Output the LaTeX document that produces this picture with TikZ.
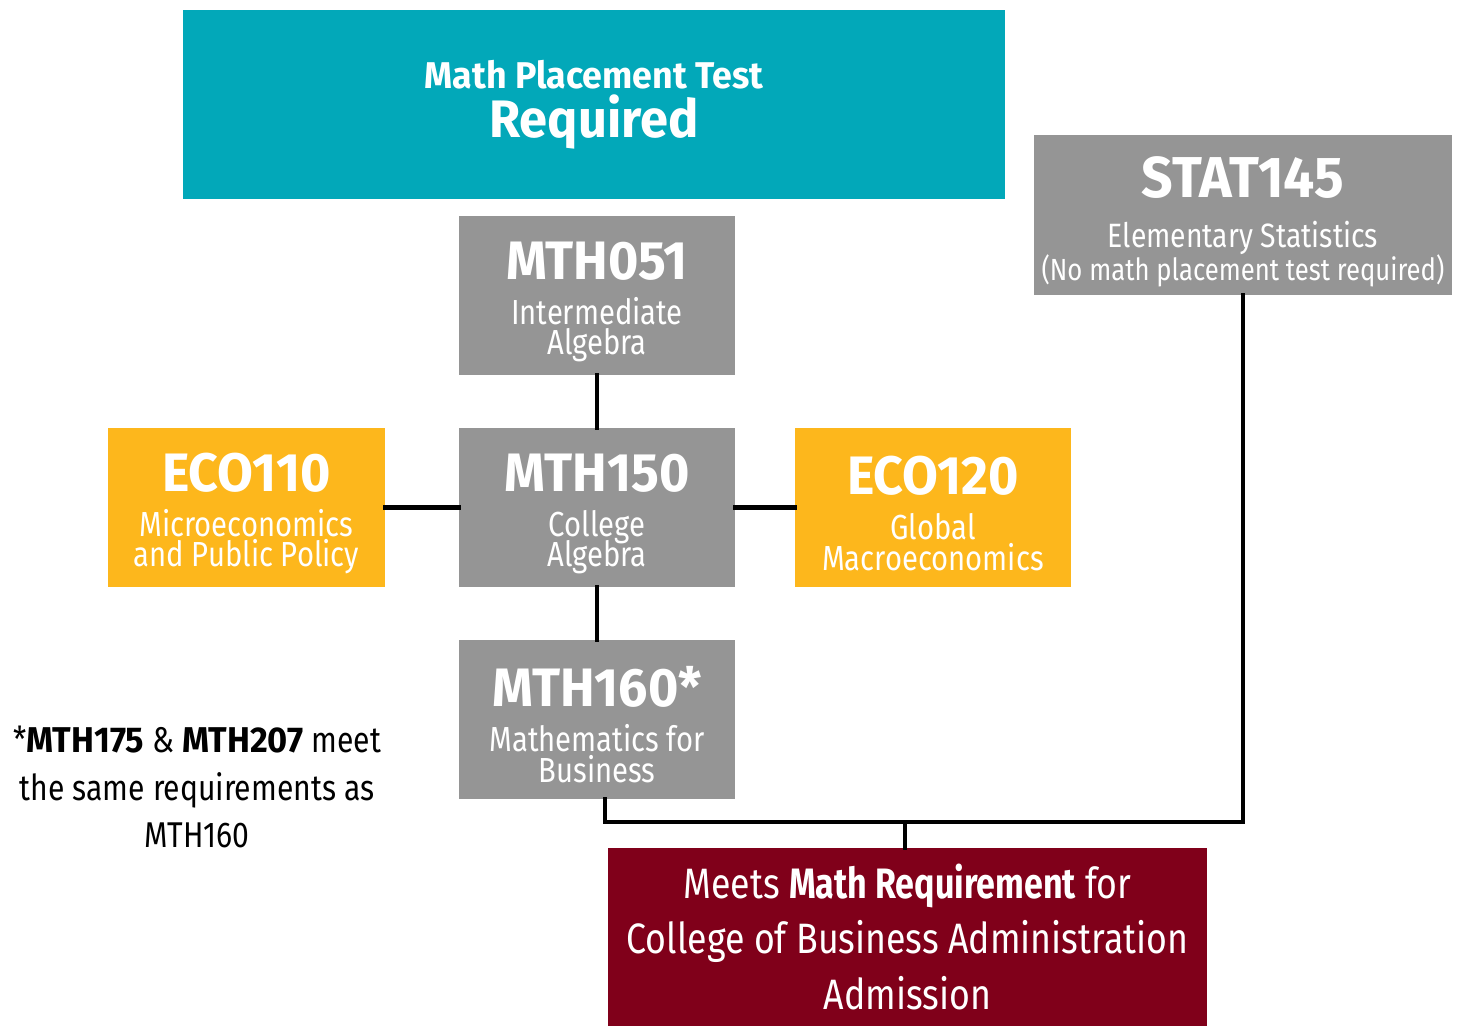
\documentclass[tikz,border=0pt]{standalone}
\usepackage{fontspec}
\setmainfont{Fira Sans}[FakeStretch=0.84, BoldFeatures={FakeStretch=0.96}]
\newfontfamily\narrowfont{Fira Sans}[FakeStretch=0.80]
\usetikzlibrary{calc}

\definecolor{placeteal}{RGB}{2,168,185}
\definecolor{coursegrey}{RGB}{149,149,149}
\definecolor{ecoyellow}{RGB}{253,183,28}
\definecolor{admitred}{RGB}{128,0,26}

\newcommand{\tightlines}{\lineskiplimit -10pt\relax}
\newcommand{\coursecode}[1]{{\fontsize{15.4}{16}\selectfont\bfseries\rule{0pt}{14.4pt}#1}}

\tikzset{
  box/.style={rectangle, inner sep=0pt, align=center, text=white,
    minimum width=2.76cm, minimum height=1.59cm,
    font=\fontsize{9.9}{8.6}\selectfont\tightlines},
  greybox/.style={box, fill=coursegrey},
  ecobox/.style={box, fill=ecoyellow},
  link/.style={line width=1.3pt, line cap=rect}
}

\begin{document}
\begin{tikzpicture}
  \useasboundingbox (0,0) rectangle (14.6,-10.26);

  % placement test banner
  \node[rectangle, fill=placeteal, text=white, align=center, minimum width=8.22cm, minimum height=1.89cm,
    font=\fontsize{10.6}{15}\selectfont\bfseries] (test) at (5.94,-1.045)
    {Math Placement Test\\[-1pt]{\fontsize{15}{15}\selectfont Required}};

  % courses
  \node[greybox] (m051) at (5.97,-2.955) {\coursecode{MTH051}\\[4.2pt]Intermediate\\Algebra};
  \node[greybox] (m150) at (5.97,-5.075) {\coursecode{MTH150}\\[4.2pt]College\\Algebra};
  \node[greybox] (m160) at (5.97,-7.195) {\coursecode{MTH160*}\\[4.2pt]Mathematics for\\Business};
  \node[ecobox, minimum width=2.77cm] (e110) at (2.465,-5.075) {\coursecode{ECO110}\\[4.2pt]Microeconomics\\and Public Policy};
  \node[ecobox] (e120) at (9.33,-5.075) {\coursecode{ECO120}\\[4.2pt]Global\\Macroeconomics};
  \node[greybox, minimum width=4.18cm, minimum height=1.60cm, font=\fontsize{8.7}{9.4}\selectfont\tightlines] (s145) at (12.43,-2.15)
    {{\fontsize{16.4}{17}\selectfont\bfseries\rule{0pt}{15.5pt}STAT145}\\[4.8pt]{\fontsize{9.6}{9.4}\selectfont Elementary Statistics}\\(No math placement test required)};

  % requirement met
  \node[rectangle, fill=admitred, text=white, align=center, minimum width=5.99cm, minimum height=1.78cm,
    font=\fontsize{12.1}{15.9}\selectfont] (cba) at (9.075,-9.37)
    {Meets {\narrowfont\bfseries Math Requirement} for\\College of Business Administration\\Admission};

  % footnote
  \node[align=center, font=\fontsize{10.2}{13.4}\selectfont] (note) at (1.97,-7.87)
    {*\textbf{MTH175} \& \textbf{MTH207} meet\\the same requirements as\\MTH160};

  % connectors
  \coordinate (jn) at (9.05,-8.22);
  \draw[link] (m051) -- (m150);
  \draw[link] (e110) -- (m150);
  \draw[link] (m150) -- (e120);
  \draw[link] (m150) -- (m160);
  \draw[link] ([xshift=0.08cm]m160.south) |- (jn) -| (s145.south);
  \draw[link] (jn) -- (jn |- cba.north);
\end{tikzpicture}
\end{document}
